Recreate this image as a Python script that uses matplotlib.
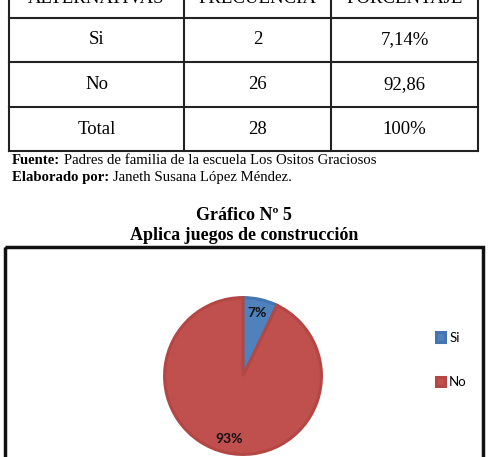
import matplotlib.pyplot as plt
from matplotlib.patches import Rectangle

# table data
headers = ['ALTERNATIVAS', 'FRECUENCIA', 'PORCENTAJE']
categories = ['Si', 'No']
frequencies = [2, 26]
percent_text = ['7,14%', '92,86']
total_row = ['Total', '28', '100%']

title_lines = ['Gráfico Nº 5', 'Aplica juegos de construcción']
colors = ['#4F81BD', '#C0504D']
edges = ['#4575AE', '#B24744']

W, H = 488, 457
fig = plt.figure(figsize=(W / 100, H / 100), dpi=100)

# page axes in pixel units
page = fig.add_axes([0, 0, 1, 1])
page.set_xlim(0, W)
page.set_ylim(H, 0)
page.axis('off')

serif = 'Liberation Serif'

# table grid
col_x = [9, 184, 331, 478]
row_y = [-30, 18, 62, 107, 151]
for y in row_y[1:]:
    page.plot([col_x[0], col_x[-1]], [y, y], color='#222222', lw=1.5)
for x in col_x:
    page.plot([x, x], [row_y[0], row_y[-1]], color='#222222', lw=1.5)

centers = [(col_x[i] + col_x[i + 1]) / 2 for i in range(3)]
for c, h in zip(centers, headers):
    page.text(c, 3, h, ha='center', va='baseline', family=serif, fontsize=13.5)

rows = [[categories[i], str(frequencies[i]), percent_text[i]] for i in range(2)] + [total_row]
for r, row in enumerate(rows):
    yc = (row_y[r + 1] + row_y[r + 2]) / 2
    for c, val in zip(centers, row):
        page.text(c, yc, val, ha='center', va='center', family=serif, fontsize=13.5)

# source lines
t1 = page.text(12, 161, 'Fuente:', ha='left', va='center', family=serif,
               fontsize=10.6, fontweight='bold')
page.annotate('Padres de familia de la escuela Los Ositos Graciosos', xy=(1, 0.5),
              xycoords=t1, xytext=(2.5, 0), textcoords='offset points',
              ha='left', va='center', family=serif, fontsize=10.6)
t2 = page.text(12, 178, 'Elaborado por:', ha='left', va='center', family=serif,
               fontsize=10.6, fontweight='bold')
page.annotate('Janeth Susana López Méndez.', xy=(1, 0.5), xycoords=t2,
              xytext=(2.5, 0), textcoords='offset points', ha='left', va='center',
              family=serif, fontsize=10.6)

# chart title
page.text(W / 2, 215, title_lines[0], ha='center', va='center', family=serif,
          fontsize=13, fontweight='bold')
page.text(W / 2, 235, title_lines[1], ha='center', va='center', family=serif,
          fontsize=13, fontweight='bold')

# chart box
page.add_patch(Rectangle((5, 247), 478, 240, fill=False, edgecolor='#111111', lw=2.5))

# pie
cx, cy, rad = 243, 376, 80
pie_ax = fig.add_axes([(cx - rad) / W, (H - cy - rad) / H, 2 * rad / W, 2 * rad / H])
wedges, _, autotexts = pie_ax.pie(frequencies, colors=colors, startangle=90,
                                  counterclock=False, autopct='%.0f%%',
                                  pctdistance=0.82,
                                  wedgeprops=dict(linewidth=2.2))
pie_ax.set_xlim(-1.02, 1.02)
pie_ax.set_ylim(-1.02, 1.02)
for w, e in zip(wedges, edges):
    w.set_edgecolor(e)
for t in autotexts:
    t.set_fontfamily('Lato')
    t.set_fontweight('bold')
    t.set_fontsize(10)
    t.set_color('#111111')

fig.legend(wedges, categories, loc='center left',
           bbox_to_anchor=(424 / W, 1 - 360 / H), frameon=False,
           prop={'family': 'Lato', 'size': 9.5}, handlelength=0.7,
           handleheight=0.7, handletextpad=0.3, labelspacing=2.5)

fig.savefig('out.png', dpi=100)
